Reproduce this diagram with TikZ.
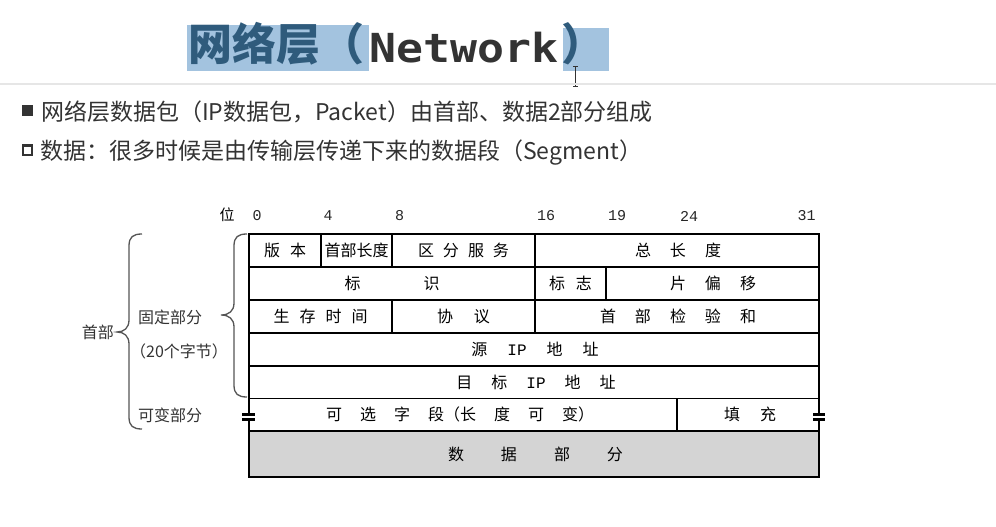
\documentclass[tikz,border=0pt]{standalone}
\usepackage{fontspec}
\newfontfamily\cjk{Noto Sans CJK SC}
\newfontfamily\titlemono{DejaVu Sans Mono}[FakeStretch=1.12]
\newfontfamily\bitmono{Liberation Mono}
\definecolor{hl}{HTML}{A3C3DF}
\definecolor{hltext}{HTML}{2F5B7C}
\definecolor{ink}{HTML}{333333}
\definecolor{rulecol}{HTML}{E6E6E6}
\definecolor{datafill}{HTML}{D4D4D4}
\definecolor{bracecol}{HTML}{555555}
\newcommand\gp[1]{\hspace{#1pt}}
\tikzset{
  cell/.style={inner sep=0pt, font=\cjk\fontsize{16}{16}\selectfont, text=black},
  side/.style={inner sep=0pt, font=\cjk\fontsize{16}{16}\selectfont, text=black!80},
  bit/.style={inner sep=0pt, font=\bitmono\fontsize{15}{15}\selectfont, text=black!85},
  grid/.style={line width=1.3pt, black},
  frame/.style={line width=1.9pt, black},
  bracket/.style={line width=1.3pt, bracecol},
  bullet/.style={inner sep=0pt, anchor=west, font=\cjk\fontsize{23}{23}\selectfont, text=ink},
}
\begin{document}
\begin{tikzpicture}[x=1pt,y=-1pt]
\useasboundingbox (0,0) rectangle (996,527);
\fill[white] (0,0) rectangle (996,527);

% title with selection highlight
\fill[hl] (187,25) rectangle (369,71);
\fill[hl] (563,28) rectangle (609,71);
\node[inner sep=0pt, anchor=base west] (titlecn) at (188,61)
  {\cjk\bfseries\fontsize{44}{44}\selectfont\color{hltext}网络层（};
\node[inner sep=0pt, anchor=base west] (titleen) at (369,63)
  {\titlemono\bfseries\fontsize{40}{40}\selectfont\color{ink}Network};
\node[inner sep=0pt, anchor=base west] (titleclose) at (561,61)
  {\cjk\bfseries\fontsize{44}{44}\selectfont\color{hltext}）};
% text cursor
\draw[line width=1.3pt, black!80] (575.7,67) -- (575.7,86);
\draw[line width=1pt, black!80] (573.3,67) -- (578.3,67) (573.3,86.5) -- (578.3,86.5);

% separator rule
\draw[rulecol, line width=1.5pt] (0,84) -- (996,84);

% bullet lines
\fill[ink] (22,105) rectangle (33,116);
\draw[ink, line width=2.4pt] (23,145.5) rectangle (32,155);
\node[bullet] (line1) at (41,112) {网络层数据包（IP数据包，Packet）由首部、数据2部分组成};
\node[bullet] (line2) at (40,152.5) {数据：很多时候是由传输层传递下来的数据段（Segment）};

% bit positions
\node[cell, font=\cjk\fontsize{15}{15}\selectfont] (wei) at (227,215) {位};
\node[bit] (b0) at (257,216) {0};
\node[bit] (b4) at (328,216) {4};
\node[bit] (b8) at (399.5,216) {8};
\node[bit] (b16) at (546,216) {16};
\node[bit] (b19) at (617,216) {19};
\node[bit] (b24) at (689,216) {24};
\node[bit] (b31) at (806.5,216) {31};

% header table
\fill[datafill] (249,431) rectangle (819,477);
\draw[grid] (249,267) -- (819,267) (249,300) -- (819,300) (249,333) -- (819,333)
            (249,366) -- (819,366) (249,398.5) -- (819,398.5) (249,431) -- (819,431);
\draw[grid] (321,234) -- (321,267) (392,234) -- (392,267) (535,234) -- (535,267);
\draw[grid] (535,267) -- (535,300) (606,267) -- (606,300);
\draw[grid] (392,300) -- (392,333) (535,300) -- (535,333);
\draw[grid] (677,398.5) -- (677,431);
\draw[frame] (249,234) rectangle (819,477);

% break marks on the variable-length row
\foreach \xx in {248.7,819} {
  \fill[white] (\xx-3,415.7) rectangle (\xx+3,418.3);
  \fill[black] (\xx-6.3,413.2) rectangle (\xx+6.3,415.8);
  \fill[black] (\xx-6.3,418.2) rectangle (\xx+6.3,420.8);
}

% field labels
\node[cell] (ver) at (285,250.5) {版\gp{10}本};
\node[cell] (ihl) at (356.5,250.5) {首部长度};
\node[cell] (tos) at (463.5,250.5) {区\gp{9}分\gp{9}服\gp{9}务};
\node[cell] (tlen) at (678,250.5) {总\gp{19}长\gp{19}度};
\node[cell] (ident) at (392,283.5) {标\gp{63}识};
\node[cell] (flags) at (570.5,283.5) {标\gp{11}志};
\node[cell] (frag) at (713,283.5) {片\gp{19}偏\gp{19}移};
\node[cell] (ttl) at (320.5,316.5) {生\gp{10}存\gp{10}时\gp{10}间};
\node[cell] (proto) at (463.5,316.5) {协\gp{21}议};
\node[cell] (csum) at (678,316.5) {首\gp{19}部\gp{19}检\gp{19}验\gp{19}和};
\node[cell] (src) at (535,349.5) {源\gp{20}{\bitmono\fontsize{16}{16}\selectfont IP}\gp{20}地\gp{20}址};
\node[cell] (dst) at (536,382) {目\gp{19}标\gp{19}{\bitmono\fontsize{16}{16}\selectfont IP}\gp{19}地\gp{19}址};
\node[cell] (opt) at (460,414.5) {可\gp{18}选\gp{18}字\gp{18}段（长\gp{18}度\gp{18}可\gp{18}变）};
\node[cell] (pad) at (750,414.5) {填\gp{20}充};
\node[cell] (data) at (535.5,454) {数\gp{37}据\gp{37}部\gp{37}分};

% braces
\draw[bracket] (142,234) .. controls (133,234) and (129,237) .. (129,246)
  -- (129,320) .. controls (129,328) and (124,332) .. (117,332)
  .. controls (124,332) and (129,336) .. (129,344)
  -- (129,417) .. controls (129,426) and (133,429) .. (142,429);
\draw[bracket] (247,234) .. controls (238,234) and (234,237) .. (234,246)
  -- (234,303) .. controls (234,311) and (229,315) .. (221,315)
  .. controls (229,315) and (234,319) .. (234,327)
  -- (234,385) .. controls (234,394) and (238,397) .. (247,397);

% side labels
\node[side, anchor=east] (hdr) at (114,332) {首部};
\node[side, anchor=west] (fixed) at (138,317) {固定部分};
\node[side, anchor=west] (bytes) at (130,351) {（20个字节）};
\node[side, anchor=west] (var) at (138,415) {可变部分};
\end{tikzpicture}
\end{document}
